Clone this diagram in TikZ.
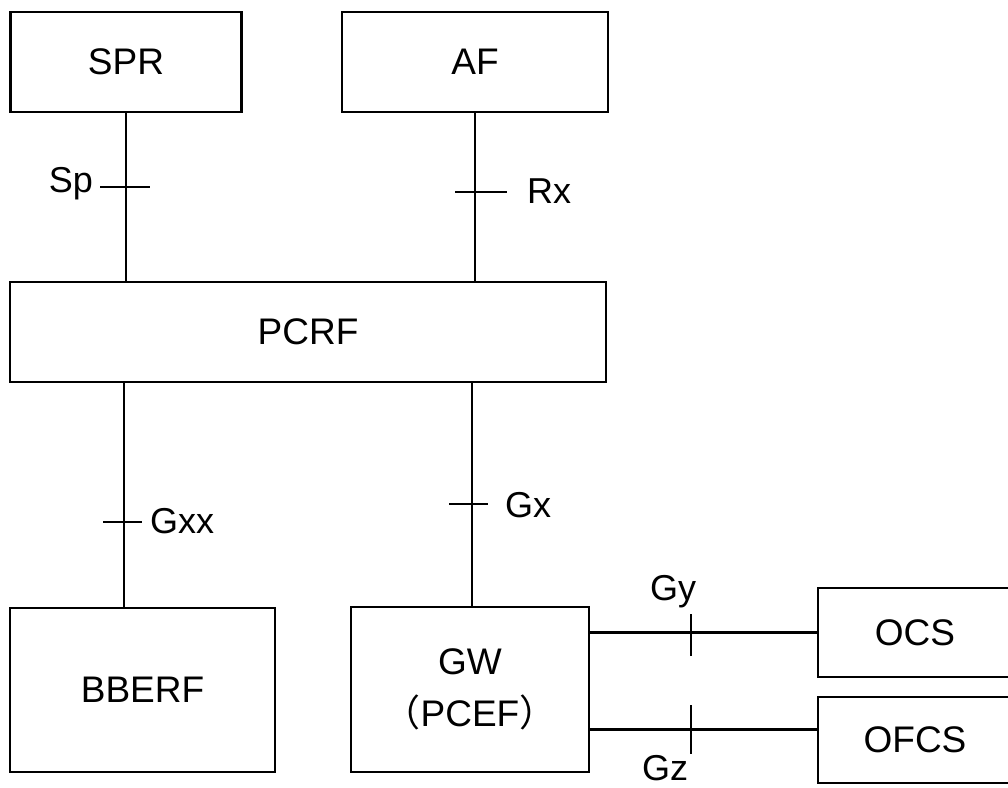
\documentclass[tikz,border=0pt]{standalone}
\usepackage{fontspec}
\setmainfont{Liberation Sans}
\newfontfamily\cjk{Noto Sans CJK SC}
\begin{document}
\begin{tikzpicture}[x=1pt,y=-1pt,
  box/.style={draw=black,line width=2.6pt,rectangle,inner sep=0pt,align=center,
    font=\fontsize{37}{52}\selectfont},
  link/.style={draw=black,line width=2.2pt},
  tick/.style={draw=black,line width=2.2pt},
  lab/.style={inner sep=0pt,anchor=base,font=\fontsize{36}{40}\selectfont}]
\useasboundingbox (0,0) rectangle (1008,787);
\clip (0,0) rectangle (1008,787);
\fill[white] (0,0) rectangle (1008,787);
% boxes
\node[box,minimum width=231pt,minimum height=100pt] (SPR) at (126,62) {SPR};
\node[box,minimum width=266pt,minimum height=100pt] (AF) at (475,62) {AF};
\node[box,minimum width=596pt,minimum height=100pt] (PCRF) at (308,332) {PCRF};
\node[box,minimum width=265pt,minimum height=164pt] (BBERF) at (142.5,690) {BBERF};
\node[box,minimum width=238pt,minimum height=165pt] (GW) at (470,689.5) {GW\\{\cjk （}PCEF{\cjk ）}};
\node[box,minimum width=194pt,minimum height=89pt] (OCS) at (915,632.5) {OCS};
\node[box,minimum width=194pt,minimum height=86pt] (OFCS) at (915,740) {OFCS};
% helper coordinates
\coordinate (cl) at (124,0);
\coordinate (cr) at (472,0);
\coordinate (gz) at (0,729.5);
% connectors
\draw[link] (SPR.south) -- (SPR.south |- PCRF.north);
\draw[link] (AF.south) -- (AF.south |- PCRF.north);
\draw[link] (PCRF.south -| cl) -- (BBERF.north -| cl);
\draw[link] (PCRF.south -| cr) -- (GW.north -| cr);
\draw[link] (GW.east |- OCS.west) -- (OCS.west);
\draw[link] (GW.east |- gz) -- (OFCS.west |- gz);
% ticks
\coordinate (tsp) at (126,187);
\coordinate (trx) at (475,192);
\coordinate (tgxx) at (124,522);
\coordinate (tgx) at (472,504);
\coordinate (tgy) at (691,633);
\coordinate (tgz) at (691,729.5);
\draw[tick] ([xshift=-26pt]tsp) -- ([xshift=24pt]tsp);
\draw[tick] ([xshift=-20pt]trx) -- ([xshift=32pt]trx);
\draw[tick] ([xshift=-21pt]tgxx) -- ([xshift=18pt]tgxx);
\draw[tick] ([xshift=-23pt]tgx) -- ([xshift=16pt]tgx);
\draw[tick] ([yshift=-23pt]tgy) -- ([yshift=19pt]tgy);
\draw[tick] ([yshift=-24pt]tgz) -- ([yshift=25pt]tgz);
% labels
\node[lab] (lsp) at (71,192) {Sp};
\node[lab] (lrx) at (549,203) {Rx};
\node[lab] (lgxx) at (182,533) {Gxx};
\node[lab] (lgx) at (528,517) {Gx};
\node[lab] (lgy) at (673,600) {Gy};
\node[lab,text depth=0pt] (lgz) at (665,780) {Gz};
\end{tikzpicture}
\end{document}
